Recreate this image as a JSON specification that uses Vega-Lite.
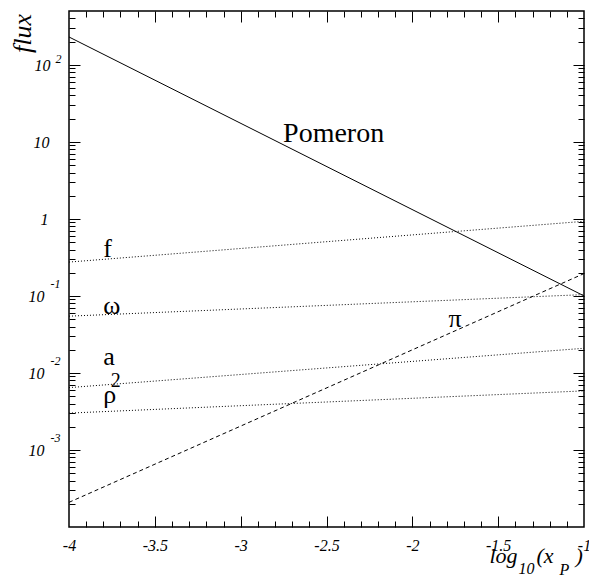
{
  "$schema": "https://vega.github.io/schema/vega-lite/v6.json",
  "autosize": "none",
  "width": 515,
  "height": 516,
  "padding": {"left": 69, "top": 11, "right": 5, "bottom": 50},
  "background": "white",
  "config": {
    "view": {"stroke": "black", "strokeWidth": 1.5},
    "axis": {"grid": false, "domain": false, "tickColor": "black", "tickWidth": 1, "labelColor": "black", "titleColor": "black", "labelOverlap": false, "labelBound": false, "labelFlush": false, "titleFont": "Liberation Serif", "titleFontStyle": "italic", "titleFontWeight": "normal", "titleAlign": "left", "titleBaseline": "alphabetic", "labelFont": "Liberation Serif", "labelFontStyle": "italic"}
  },
  "datasets": {
    "lines": [
      {"exchange": "Pomeron", "x": -4, "y": 230}, {"exchange": "Pomeron", "x": -1, "y": 0.1},
      {"exchange": "f", "x": -4, "y": 0.275}, {"exchange": "f", "x": -1, "y": 0.93},
      {"exchange": "omega", "x": -4, "y": 0.0546}, {"exchange": "omega", "x": -1, "y": 0.104},
      {"exchange": "a2", "x": -4, "y": 0.00645}, {"exchange": "a2", "x": -1, "y": 0.0209},
      {"exchange": "rho", "x": -4, "y": 0.00301}, {"exchange": "rho", "x": -1, "y": 0.00585},
      {"exchange": "pi", "x": -4, "y": 0.000209}, {"exchange": "pi", "x": -1, "y": 0.195}
    ],
    "labels": [
      {"kind": "pomeron", "name": "Pomeron", "x": -2.753, "y": 10},
      {"kind": "reggeon", "name": "f", "x": -3.8, "y": 0.318},
      {"kind": "reggeon", "name": "ω", "x": -3.8, "y": 0.0591},
      {"kind": "reggeon", "name": "a", "x": -3.8, "y": 0.01268},
      {"kind": "reggeon", "name": "ρ", "x": -3.8, "y": 0.0041},
      {"kind": "reggeon", "name": "π", "x": -1.79, "y": 0.039}
    ],
    "subscripts": [
      {"name": "2", "x": -3.757, "y": 0.00665}
    ]
  },
  "resolve": {"scale": {"x": "shared", "y": "shared"}, "axis": {"x": "independent", "y": "independent"}},
  "layer": [
    {
      "data": {"name": "lines"},
      "transform": [{"filter": "datum.exchange === 'Pomeron'"}],
      "mark": {"type": "line", "color": "black", "strokeWidth": 1},
      "encoding": {
        "x": {"field": "x", "type": "quantitative", "scale": {"domain": [-4, -1], "nice": false, "zero": false},
          "axis": {"orient": "bottom", "ticks": false, "values": [-4, -3.5, -3, -2.5, -2, -1.5, -1], "labelExpr": "'' + datum.value", "labelFontSize": 16, "labelPadding": 10, "labelBaseline": "top",
            "title": "log", "titleFontSize": 22, "titleAngle": 0, "titleX": 420, "titleY": 35}},
        "y": {"field": "y", "type": "quantitative", "scale": {"type": "log", "domain": [0.0001, 500], "nice": false},
          "axis": {"orient": "left", "ticks": false, "values": [0.001, 0.01, 0.1, 1, 10, 100], "labelExpr": "datum.value == 1 ? '1' : '10'", "labelFontSize": 16, "labelAlign": "right", "labelBaseline": "middle",
            "labelPadding": {"condition": [{"test": "datum.value == 100", "value": 19}, {"test": "datum.value == 10", "value": 20}, {"test": "datum.value == 1", "value": 21}], "value": 25},
            "labelOffset": 1,
            "title": "flux", "titleFontSize": 26, "titleAngle": -90, "titleAlign": "center", "titleX": -39, "titleY": 22}}
      }
    },
    {
      "data": {"name": "lines"},
      "transform": [{"filter": "datum.exchange !== 'Pomeron' && datum.exchange !== 'pi'"}],
      "mark": {"type": "line", "color": "black", "strokeWidth": 1, "strokeDash": [1, 2]},
      "encoding": {
        "detail": {"field": "exchange"},
        "x": {"field": "x", "type": "quantitative", "scale": {"domain": [-4, -1], "nice": false, "zero": false},
          "axis": {"orient": "bottom", "labels": false, "tickSize": -11, "values": [-3.5, -3, -2.5, -2, -1.5],
            "title": "10", "titleFontSize": 16, "titleAngle": 0, "titleX": 449, "titleY": 46}},
        "y": {"field": "y", "type": "quantitative", "scale": {"type": "log", "domain": [0.0001, 500], "nice": false},
          "axis": {"orient": "left", "ticks": false, "values": [0.001, 0.01, 0.1, 100], "labelExpr": "datum.value == 100 ? '2' : datum.value == 0.1 ? '-1' : datum.value == 0.01 ? '-2' : '-3'", "labelFontSize": 12, "labelAlign": "left", "labelBaseline": "middle",
            "labelPadding": {"condition": {"test": "datum.value == 100", "value": 14}, "value": 19},
            "labelOffset": {"condition": {"test": "datum.value == 100", "value": -6}, "value": -12},
            "title": null}}
      }
    },
    {
      "data": {"name": "lines"},
      "transform": [{"filter": "datum.exchange === 'pi'"}],
      "mark": {"type": "line", "color": "black", "strokeWidth": 1, "strokeDash": [4, 3]},
      "encoding": {
        "x": {"field": "x", "type": "quantitative", "scale": {"domain": [-4, -1], "nice": false, "zero": false},
          "axis": {"orient": "bottom", "labels": false, "tickSize": -6, "values": [-3.9, -3.8, -3.7, -3.6, -3.4, -3.3, -3.2, -3.1, -2.9, -2.8, -2.7, -2.6, -2.4, -2.3, -2.2, -2.1, -1.9, -1.8, -1.7, -1.6, -1.4, -1.3, -1.2, -1.1],
            "title": "(x", "titleFontSize": 22, "titleAngle": 0, "titleX": 467, "titleY": 35}},
        "y": {"field": "y", "type": "quantitative", "scale": {"type": "log", "domain": [0.0001, 500], "nice": false},
          "axis": {"orient": "left", "labels": false, "tickSize": -11, "values": [0.001, 0.01, 0.1, 1, 10, 100], "title": null}}
      }
    },
    {
      "data": {"name": "labels"},
      "transform": [{"filter": "datum.kind === 'pomeron'"}],
      "mark": {"type": "text", "font": "Liberation Serif", "fontSize": 28, "align": "left", "baseline": "alphabetic", "color": "black"},
      "encoding": {
        "text": {"field": "name"},
        "x": {"field": "x", "type": "quantitative", "scale": {"domain": [-4, -1], "nice": false, "zero": false},
          "axis": {"orient": "top", "labels": false, "tickSize": -11, "values": [-3.5, -3, -2.5, -2, -1.5],
            "title": "P", "titleFontSize": 16, "titleAngle": 0, "titleX": 490, "titleY": 563}},
        "y": {"field": "y", "type": "quantitative", "scale": {"type": "log", "domain": [0.0001, 500], "nice": false},
          "axis": {"orient": "left", "labels": false, "tickSize": -6, "values": [0.0002, 0.0003, 0.0004, 0.0005, 0.0006, 0.0007, 0.0008, 0.0009, 0.002, 0.003, 0.004, 0.005, 0.006, 0.007, 0.008, 0.009, 0.02, 0.03, 0.04, 0.05, 0.06, 0.07, 0.08, 0.09, 0.2, 0.3, 0.4, 0.5, 0.6, 0.7, 0.8, 0.9, 2, 3, 4, 5, 6, 7, 8, 9, 20, 30, 40, 50, 60, 70, 80, 90, 200, 300, 400], "title": null}}
      }
    },
    {
      "data": {"name": "labels"},
      "transform": [{"filter": "datum.kind !== 'pomeron'"}],
      "mark": {"type": "text", "font": "Liberation Serif", "fontSize": 26, "align": "left", "baseline": "alphabetic", "color": "black"},
      "encoding": {
        "text": {"field": "name"},
        "x": {"field": "x", "type": "quantitative", "scale": {"domain": [-4, -1], "nice": false, "zero": false},
          "axis": {"orient": "top", "labels": false, "tickSize": -6, "values": [-3.9, -3.8, -3.7, -3.6, -3.4, -3.3, -3.2, -3.1, -2.9, -2.8, -2.7, -2.6, -2.4, -2.3, -2.2, -2.1, -1.9, -1.8, -1.7, -1.6, -1.4, -1.3, -1.2, -1.1],
            "title": ")", "titleFontSize": 22, "titleAngle": 0, "titleX": 506, "titleY": 551}},
        "y": {"field": "y", "type": "quantitative", "scale": {"type": "log", "domain": [0.0001, 500], "nice": false},
          "axis": {"orient": "right", "labels": false, "tickSize": -11, "values": [0.001, 0.01, 0.1, 1, 10, 100], "title": null}}
      }
    },
    {
      "data": {"name": "subscripts"},
      "mark": {"type": "text", "font": "Liberation Serif", "fontSize": 20, "align": "left", "baseline": "alphabetic", "color": "black"},
      "encoding": {
        "text": {"field": "name"},
        "x": {"field": "x", "type": "quantitative", "scale": {"domain": [-4, -1], "nice": false, "zero": false}, "axis": null},
        "y": {"field": "y", "type": "quantitative", "scale": {"type": "log", "domain": [0.0001, 500], "nice": false},
          "axis": {"orient": "right", "labels": false, "tickSize": -6, "values": [0.0002, 0.0003, 0.0004, 0.0005, 0.0006, 0.0007, 0.0008, 0.0009, 0.002, 0.003, 0.004, 0.005, 0.006, 0.007, 0.008, 0.009, 0.02, 0.03, 0.04, 0.05, 0.06, 0.07, 0.08, 0.09, 0.2, 0.3, 0.4, 0.5, 0.6, 0.7, 0.8, 0.9, 2, 3, 4, 5, 6, 7, 8, 9, 20, 30, 40, 50, 60, 70, 80, 90, 200, 300, 400], "title": null}}
      }
    }
  ]
}
